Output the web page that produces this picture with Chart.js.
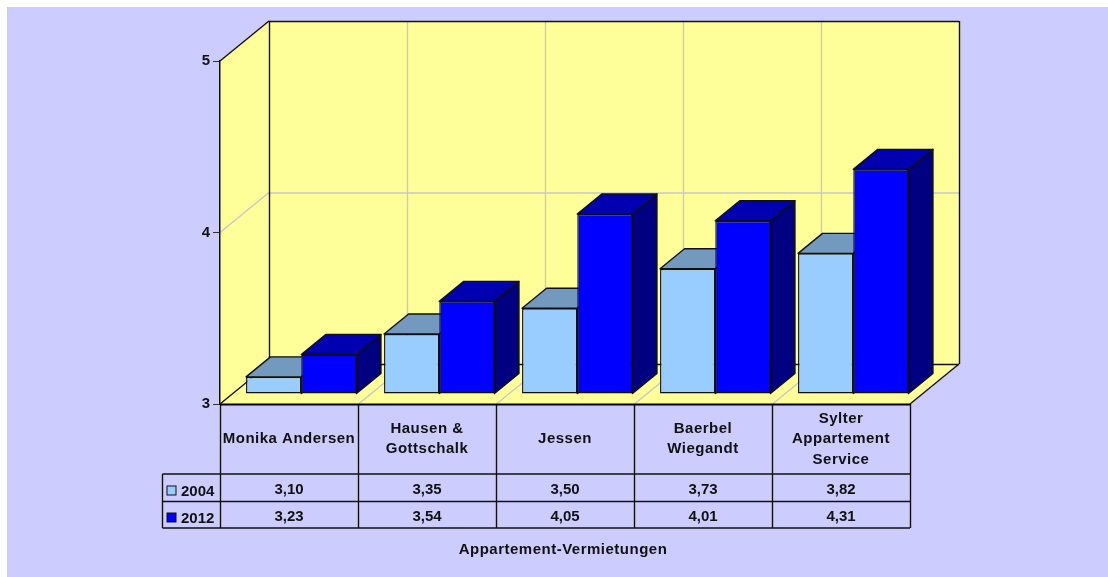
<!DOCTYPE html>
<html lang="de">
<head>
    <meta charset="UTF-8">
    <title>Appartement-Vermietungen</title>
    <script src="https://cdn.jsdelivr.net/npm/chart.js"></script>
    <style>
        body { margin: 0; background: #fff; }
        #wrap { position: relative; width: 1108px; height: 577px; }
    </style>
</head>
<body>
<div id="wrap"><canvas id="chart"></canvas></div>
<script>
    // Data
    const categories = ["Monika Andersen", ["Hausen &", "Gottschalk"], "Jessen", ["Baerbel", "Wiegandt"], ["Sylter", "Appartement", "Service"]];
    const seriesNames = ["2004", "2012"];
    const values2004 = [3.10, 3.35, 3.50, 3.73, 3.82];
    const values2012 = [3.23, 3.54, 4.05, 4.01, 4.31];
    const axisTitle = "Appartement-Vermietungen";

    const FONT = "bold 15px 'Liberation Sans', Arial, sans-serif";
    const LINE = "#111";
    const GRID = "#c8c8c8";
    const DEPTH_X = 49, DEPTH_Y = 40;   // how far the back wall is shifted
    const ROW_1 = 474, ROW_2 = 501.5, ROW_3 = 528, LEGEND_LEFT = 162.5;

    function poly(ctx, pts, fill, stroke) {
        ctx.beginPath();
        pts.forEach((p, i) => i ? ctx.lineTo(p[0], p[1]) : ctx.moveTo(p[0], p[1]));
        ctx.closePath();
        if (fill) { ctx.fillStyle = fill; ctx.fill(); }
        if (stroke) { ctx.strokeStyle = stroke; ctx.lineWidth = 1.4; ctx.lineJoin = "round"; ctx.stroke(); }
    }
    function line(ctx, x1, y1, x2, y2, color, width) {
        ctx.beginPath();
        ctx.moveTo(x1, y1);
        ctx.lineTo(x2, y2);
        ctx.strokeStyle = color;
        ctx.lineWidth = width || 1.4;
        ctx.stroke();
    }

    // Panel, walls, floor and the data table below the plot
    const backdrop = {
        id: 'backdrop',
        beforeDraw(chart) {
            const ctx = chart.ctx, xs = chart.scales.x, ys = chart.scales.y;
            const l = xs.left, r = xs.right, t = ys.top, b = ys.bottom;
            const dx = DEPTH_X, dy = DEPTH_Y;
            ctx.save();
            ctx.fillStyle = "#CCCCFF";
            ctx.fillRect(7, 7, 1101, 570);

            poly(ctx, [[l + dx, t - dy], [r + dx, t - dy], [r + dx, b - dy], [l + dx, b - dy]], "#FFFF99");
            poly(ctx, [[l, t], [l + dx, t - dy], [l + dx, b - dy], [l, b]], "#FFFF99");
            poly(ctx, [[l, b], [l + dx, b - dy], [r + dx, b - dy], [r, b]], "#FFFF99");

            // grid on back wall, side wall and floor
            const step = (r - l) / categories.length;
            for (let i = 1; i < categories.length; i++) {
                const x = Math.round(l + i * step) + 0.5;
                line(ctx, x + dx, t - dy, x + dx, b - dy, GRID);
                line(ctx, x, b, x + dx, b - dy, GRID);
            }
            const y4 = ys.getPixelForValue(4);
            line(ctx, l, y4, l + dx, y4 - dy, GRID);
            line(ctx, l + dx, y4 - dy + 0.5, r + dx, y4 - dy + 0.5, GRID);

            // wall outlines
            line(ctx, l, t, l + dx, t - dy, LINE);
            line(ctx, l + dx + 0.5, t - dy, l + dx + 0.5, b - dy, LINE);
            line(ctx, l + dx, t - dy + 0.5, r + dx, t - dy + 0.5, LINE);
            line(ctx, r + dx + 0.5, t - dy, r + dx + 0.5, b - dy, LINE);
            line(ctx, l + dx, b - dy + 0.5, r + dx, b - dy + 0.5, LINE);
            line(ctx, l, b, l + dx, b - dy, LINE);
            line(ctx, r, b, r + dx, b - dy, LINE);

            // table lines
            for (let i = 0; i <= categories.length; i++) {
                const x = Math.round(l + i * step) + 0.5;
                line(ctx, x, b, x, ROW_3, LINE);
            }
            line(ctx, LEGEND_LEFT, ROW_1, LEGEND_LEFT, ROW_3, LINE);
            [ROW_1, ROW_2, ROW_3].forEach(y => line(ctx, LEGEND_LEFT, y, r, y, LINE));
            line(ctx, l, b + 0.5, r, b + 0.5, "#000", 2);

            // table text, the reference spaces its letters a bit wider
            ctx.font = FONT;
            ctx.fillStyle = "#111";
            ctx.textAlign = "center";
            ctx.textBaseline = "middle";
            ctx.letterSpacing = "0.5px";
            categories.forEach((c, i) => {
                const rows = [].concat(c);
                const cx = xs.getPixelForValue(i);
                rows.forEach((txt, k) => {
                    ctx.fillText(txt, cx, (b + ROW_1) / 2 + (k - (rows.length - 1) / 2) * 20.5);
                });
            });
            ctx.fillText(axisTitle, 563, 550);
            ctx.letterSpacing = "0px";
            categories.forEach((c, i) => {
                const cx = xs.getPixelForValue(i);
                ctx.fillText(values2004[i].toFixed(2).replace('.', ','), cx, (ROW_1 + ROW_2) / 2 + 2.5);
                ctx.fillText(values2012[i].toFixed(2).replace('.', ','), cx, (ROW_2 + ROW_3) / 2 + 2.5);
            });

            // legend keys in the table
            ctx.textAlign = "left";
            chart.data.datasets.forEach((ds, i) => {
                const top = i ? 513 : 486;
                ctx.fillStyle = ds.backgroundColor;
                ctx.fillRect(167, top, 9, 9);
                ctx.strokeStyle = LINE;
                ctx.lineWidth = 1;
                ctx.strokeRect(167, top, 9, 9);
                ctx.fillStyle = "#111";
                ctx.fillText(seriesNames[i], 181, top + 5.5);
            });
            ctx.restore();
        }
    };

    // Bars stand in the middle of the floor depth, with a top and a side face
    const bars3d = {
        id: 'bars3d',
        beforeDatasetsDraw(chart) {
            const ctx = chart.ctx;
            ctx.save();
            ctx.translate(DEPTH_X / 4, -DEPTH_Y / 4);
            const dx = DEPTH_X / 2, dy = DEPTH_Y / 2;
            chart.data.datasets.forEach((ds, d) => {
                chart.getDatasetMeta(d).data.forEach(bar => {
                    const p = bar.getProps(['x', 'y', 'base', 'width'], true);
                    const x1 = p.x - p.width / 2, x2 = p.x + p.width / 2;
                    poly(ctx, [[x2, p.y], [x2 + dx, p.y - dy], [x2 + dx, p.base - dy], [x2, p.base]], ds.sideColor, LINE);
                    poly(ctx, [[x1, p.y], [x1 + dx, p.y - dy], [x2 + dx, p.y - dy], [x2, p.y]], ds.topColor, LINE);
                });
            });
        },
        afterDatasetsDraw(chart) {
            chart.ctx.restore();
        }
    };

    new Chart(document.getElementById('chart'), {
        type: 'bar',
        data: {
            labels: categories,
            datasets: [
                { label: seriesNames[0], data: values2004, base: 3, backgroundColor: "#99CCFF", topColor: "#7399BF", sideColor: "#4D6680",
                  borderColor: LINE, borderWidth: 1.4, borderSkipped: false, clip: false, categoryPercentage: 0.8, barPercentage: 1 },
                { label: seriesNames[1], data: values2012, base: 3, backgroundColor: "#0000FF", topColor: "#0000B0", sideColor: "#000080",
                  borderColor: LINE, borderWidth: 1.4, borderSkipped: false, clip: false, categoryPercentage: 0.8, barPercentage: 1 }
            ]
        },
        options: {
            responsive: true,
            maintainAspectRatio: false,
            animation: false,
            layout: { padding: { left: 180, right: 198, top: 61, bottom: 173 } },
            plugins: { legend: { display: false }, tooltip: { enabled: false } },
            scales: {
                x: { display: false },
                y: {
                    min: 3,
                    max: 5,
                    afterFit(scale) { scale.width = 40; },
                    ticks: {
                        stepSize: 1,
                        padding: 3,
                        color: "#111",
                        font: { family: "'Liberation Sans', Arial, sans-serif", size: 15, weight: 'bold' }
                    },
                    grid: { drawOnChartArea: false, tickLength: 7, tickColor: "#333" },
                    border: { color: LINE, width: 1.5 }
                }
            }
        },
        plugins: [backdrop, bars3d]
    });
</script>
</body>
</html>
